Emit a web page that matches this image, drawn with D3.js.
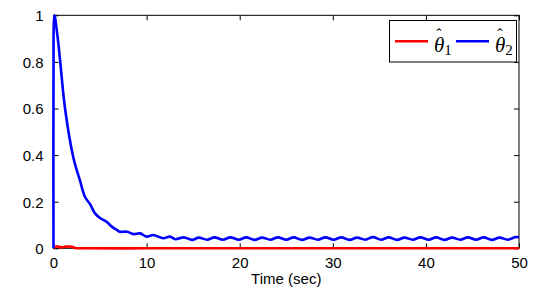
<!DOCTYPE html>
<html>
<head>
<meta charset="utf-8">
<script src="https://cdn.jsdelivr.net/npm/d3@7"></script>
<style>
  body { margin: 0; background: #fff; }
  .tick-label { font-family: "Liberation Sans", Arial, sans-serif; font-size: 15px; fill: #000; }
</style>
</head>
<body>
<svg id="chart" width="547" height="293"></svg>
<script>
// values
var xTicks = [0, 10, 20, 30, 40, 50];
var yTicks = [0, 0.2, 0.4, 0.6, 0.8, 1];
var yTickLabels = ['0', '0.2', '0.4', '0.6', '0.8', '1'];
var seriesNames = ['1', '2'];
var seriesColors = ['#ff0000', '#0000ff'];

var theta1 = [
  [0, 0], [0.3, 0.008], [0.9, 0.004], [1.3, 0.007], [2.0, 0.007], [2.3, 0.001],
  [3, 0], [10, 0], [20, 0], [30, 0], [40, 0], [50, 0]
];

var theta2 = [
  [0, 0], [0, 0.73], [0.1, 1.0], [0.4, 0.92], [0.7, 0.81],
  [1.24, 0.6], [2.13, 0.39], [2.85, 0.29], [3.39, 0.22], [3.92, 0.19],
  [4.46, 0.15], [5.0, 0.13], [5.7, 0.114], [6.26, 0.093], [6.8, 0.079],
  [7.15, 0.071], [7.9, 0.071], [8.6, 0.061], [9.3, 0.064], [10.0, 0.05],
  [10.7, 0.057], [11.8, 0.043], [12.5, 0.05], [13.1, 0.039], [14.0, 0.047],
  [14.9, 0.036], [15.6, 0.046], [16.5, 0.037], [17.3, 0.047], [18.2, 0.037],
  [19.0, 0.047], [19.9, 0.037], [20.7, 0.047], [21.6, 0.036], [22.4, 0.046],
  [23.3, 0.037], [24.1, 0.047], [25.0, 0.037], [25.8, 0.047], [26.7, 0.036],
  [27.5, 0.046], [28.4, 0.037], [29.2, 0.047], [30.1, 0.037], [30.9, 0.047],
  [31.8, 0.036], [32.6, 0.046], [33.5, 0.037], [34.3, 0.048], [35.2, 0.037],
  [36.0, 0.047], [36.9, 0.036], [37.7, 0.046], [38.6, 0.037], [39.4, 0.047],
  [40.3, 0.037], [41.1, 0.047], [42.0, 0.036], [42.8, 0.046], [43.7, 0.037],
  [44.5, 0.047], [45.4, 0.037], [46.2, 0.047], [47.1, 0.036], [47.9, 0.046],
  [48.8, 0.037], [49.6, 0.048], [50, 0.048]
];

var allSeries = [theta1, theta2];

var width = 547, height = 293;
var margin = {top: 15.3, right: 28, bottom: 44.7, left: 53.5};

var svg = d3.select('#chart');

var x = d3.scaleLinear().domain([0, 50]).range([margin.left, width - margin.right]);
var y = d3.scaleLinear().domain([0, 1]).range([height - margin.bottom, margin.top]);

var tickLen = 5;

// box
svg.append('rect')
  .attr('x', x(0)).attr('y', y(1))
  .attr('width', x(50) - x(0)).attr('height', y(0) - y(1))
  .attr('fill', 'none').attr('stroke', '#000').attr('stroke-width', 1);

// axes (ticks inward on all four sides)
svg.append('g')
  .attr('transform', 'translate(0,' + y(0) + ')')
  .call(d3.axisBottom(x).tickValues(xTicks).tickSizeInner(-tickLen).tickSizeOuter(0).tickPadding(tickLen + 4))
  .call(g => g.select('.domain').remove())
  .call(g => g.selectAll('text').attr('class', 'tick-label').attr('dy', '0.72em'));

svg.append('g')
  .attr('transform', 'translate(0,' + y(1) + ')')
  .call(d3.axisTop(x).tickValues(xTicks).tickSizeInner(-tickLen).tickSizeOuter(0).tickFormat(''))
  .call(g => g.select('.domain').remove());

svg.append('g')
  .attr('transform', 'translate(' + x(0) + ',0)')
  .call(d3.axisLeft(y).tickValues(yTicks).tickSizeInner(-tickLen).tickSizeOuter(0).tickPadding(tickLen + 5)
    .tickFormat((d, i) => yTickLabels[i]))
  .call(g => g.select('.domain').remove())
  .call(g => g.selectAll('text').attr('class', 'tick-label').attr('dy', '0.36em'));

svg.append('g')
  .attr('transform', 'translate(' + x(50) + ',0)')
  .call(d3.axisRight(y).tickValues(yTicks).tickSizeInner(-tickLen).tickSizeOuter(0).tickFormat(''))
  .call(g => g.select('.domain').remove());

svg.selectAll('.tick line').attr('stroke', '#000');

// x label
svg.append('text')
  .attr('class', 'tick-label')
  .attr('x', (x(0) + x(50)) / 2)
  .attr('y', 284)
  .attr('text-anchor', 'middle')
  .text('Time (sec)');

// lines
var line = d3.line()
  .x(d => x(d[0]))
  .y(d => y(d[1]))
  .curve(d3.curveCatmullRom.alpha(0.5));

allSeries.forEach(function(s, i) {
  svg.append('path')
    .datum(s)
    .attr('fill', 'none')
    .attr('stroke', seriesColors[i])
    .attr('stroke-width', 2.6)
    .attr('stroke-linejoin', 'round')
    .attr('d', line);
});

// legend
var legend = svg.append('g');
legend.append('rect')
  .attr('x', 389.5).attr('y', 20.5)
  .attr('width', 127).attr('height', 41.5)
  .attr('fill', '#fff').attr('stroke', '#000').attr('stroke-width', 1);

var itemX = [395, 456];
seriesNames.forEach(function(name, i) {
  var lx = itemX[i];
  legend.append('line')
    .attr('x1', lx).attr('x2', lx + 33)
    .attr('y1', 41.3).attr('y2', 41.3)
    .attr('stroke', seriesColors[i]).attr('stroke-width', 2.6);
  var t = legend.append('text')
    .attr('x', lx + 39).attr('y', 52)
    .style('font-family', '"Liberation Serif", "DejaVu Serif", serif')
    .style('font-size', '21px');
  t.append('tspan').style('font-style', 'italic').text('θ');
  // hat sits on top of theta (overlap is intended, as in the reference)
  t.append('tspan').attr('dx', -8).attr('dy', -12).style('font-size', '16px').text('ˆ');
  t.append('tspan').attr('dx', 2.5).attr('dy', 15).style('font-size', '15px').text(name);
});
</script>
</body>
</html>
